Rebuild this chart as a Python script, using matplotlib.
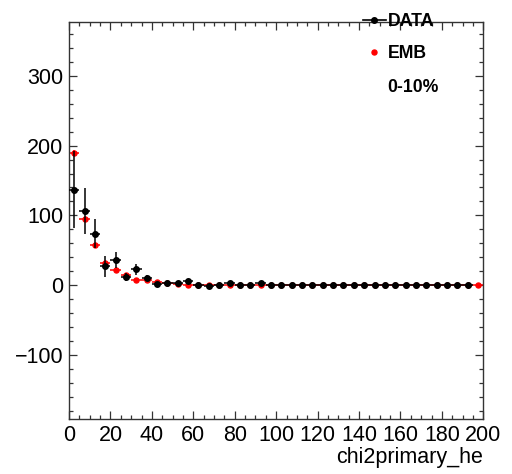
import numpy as np
import matplotlib
matplotlib.use('Agg')
import matplotlib.pyplot as plt
from matplotlib.lines import Line2D
from matplotlib.ticker import MultipleLocator

plt.rcParams['font.family'] = ['Liberation Sans', 'DejaVu Sans']

# bin centres (5-unit bins from 0 to 200)
bin_centers = np.arange(2.5, 200, 5.0)
bin_halfwidth = 2.5

data_vals = [137, 106, 74, 27, 36, 12, 23, 10, 1.5, 3,
             3, 6, 0, -1.5, 1, 3.5, 0, 0, 2.5, 0,
             0.3, 0.5, 0.2, 0.5, 0.3, 0.2, 0.5, 0.3, 0.3, 0.5,
             0.3, 0.2, 0.5, 0.3, 0.2, 0.3, 0.5, 0.2, 1.0, np.nan]
data_errs = [55, 33, 21, 15, 11, 6, 8, 4, 3, 3,
             2, 3, 2, 2, 2, 2, 1, 1, 1.5, 1,
             1, 1, 1, 1, 1, 1, 1, 1, 1, 1,
             1, 1, 1, 1, 1, 1, 1, 1, 1, 0]

emb_vals = [190, 95, 57, 32, 22, 15, 8, 7, 5, 2.5,
            1.5, 1, 1, 0.5, 0.5, 0, 0, 0, 0.5, 0,
            0, 0, 0, 0, 0, 0, 0, 0, 0, 0,
            0, 0, 0, 0, 0, 0, 0, 0, 0, 0.5]
emb_errs = [4, 3, 2, 2, 1.5, 1, 1, 1, 1, 0.5,
            0.5, 0.5, 0.5, 0.5, 0.5, 0.5, 0.5, 0.5, 0.5, 0.5,
            0.5, 0.5, 0.5, 0.5, 0.5, 0.5, 0.5, 0.5, 0.5, 0.5,
            0.5, 0.5, 0.5, 0.5, 0.5, 0.5, 0.5, 0.5, 0.5, 0.5]

fig = plt.figure(figsize=(5.12, 4.74), dpi=100)
ax = fig.add_axes([0.1348, 0.1154, 0.944 - 0.1348, 0.9536 - 0.1154])

ax.errorbar(bin_centers, emb_vals, xerr=bin_halfwidth, yerr=emb_errs,
            fmt='o', color='red', ms=3.6, elinewidth=1.1, capsize=0, zorder=2)
ax.errorbar(bin_centers, data_vals, xerr=bin_halfwidth, yerr=data_errs,
            fmt='o', color='black', ms=4, elinewidth=1.1, capsize=0, zorder=3)

ax.set_xlim(0, 200)
ax.set_ylim(-192, 377)
ax.xaxis.set_major_locator(MultipleLocator(20))
ax.xaxis.set_minor_locator(MultipleLocator(5))
ax.yaxis.set_major_locator(MultipleLocator(100))
ax.yaxis.set_minor_locator(MultipleLocator(20))
ax.tick_params(which='both', direction='in', top=True, right=True,
               labelsize=15.5, pad=4, color='#333333')
ax.tick_params(which='major', length=6, width=0.9)
ax.tick_params(which='minor', length=3, width=0.9)
for sp in ax.spines.values():
    sp.set_color('#333333')
    sp.set_linewidth(1.0)

ax.set_xlabel('chi2primary_he', fontsize=15.5, loc='right', labelpad=1)

handles = [
    Line2D([], [], color='black', marker='o', ms=4, lw=1.2),
    Line2D([], [], color='red', marker='o', ms=3.6, lw=0),
]
fig.legend(handles, ['DATA', 'EMB'], loc='upper left',
           bbox_to_anchor=(0.691, 0.991), frameon=False,
           prop={'weight': 'bold', 'size': 12.7}, handlelength=1.3,
           handletextpad=0.15, labelspacing=0.85, borderpad=0)
fig.text(0.757, 0.816, '0-10%', fontsize=12.7, fontweight='bold',
         ha='left', va='center')

fig.savefig('out.png', dpi=100)
